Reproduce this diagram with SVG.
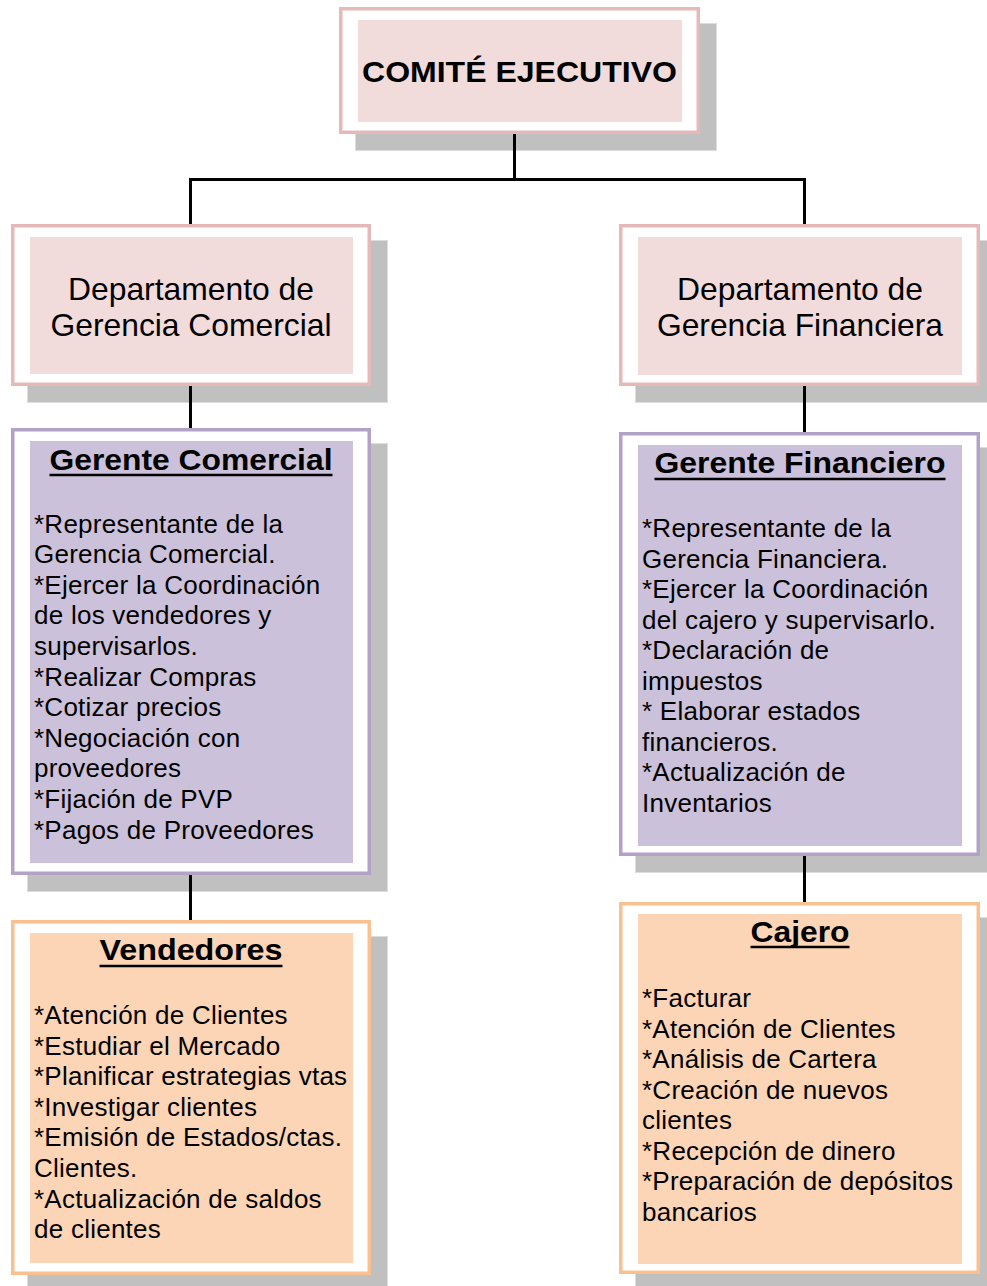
<svg xmlns="http://www.w3.org/2000/svg" width="987" height="1286" viewBox="0 0 987 1286">
<style>
.shadow{fill:#c0c0c0;stroke:#dcdcdc;stroke-width:1}
.pinkO{fill:#ffffff;stroke:#e6b9b8;stroke-width:3.5}
.pinkI{fill:#f2dcdb}
.purO{fill:#ffffff;stroke:#b3a2c7;stroke-width:3.5}
.purI{fill:#ccc1da}
.orO{fill:#ffffff;stroke:#fac090;stroke-width:3.5}
.orI{fill:#fbd5b5}
text{font-family:"Liberation Sans",Arial,sans-serif;fill:#000}
.title{font-size:30px;font-weight:bold;text-anchor:middle}
.dept{font-size:31.5px;text-anchor:middle}
.body{font-size:26px;letter-spacing:0.25px}
.ul{stroke:#000;stroke-width:2.5}
.conn{stroke:#000;stroke-width:3;fill:none}
</style>

<g id="comite">
<rect class="shadow" x="355.5" y="23.5" width="361" height="127"/>
<rect class="pinkO" x="340.75" y="8.75" width="357.5" height="123.5"/>
<rect class="pinkI" x="358" y="20" width="324" height="102"/>
<text class="title" x="519.5" y="82" textLength="315" lengthAdjust="spacingAndGlyphs">COMITÉ EJECUTIVO</text>
</g>

<g id="dept-comercial">
<rect class="shadow" x="27.5" y="240.5" width="360" height="162"/>
<rect class="pinkO" x="12.75" y="225.75" width="356.5" height="158.5"/>
<rect class="pinkI" x="30" y="237" width="323" height="137"/>
<text class="dept" x="191" y="300" textLength="246" lengthAdjust="spacingAndGlyphs">Departamento de</text>
<text class="dept" x="191" y="336" textLength="281" lengthAdjust="spacingAndGlyphs">Gerencia Comercial</text>
</g>

<g id="dept-financiera">
<rect class="shadow" x="635.5" y="240.5" width="360" height="162"/>
<rect class="pinkO" x="620.75" y="225.75" width="357.5" height="158.5"/>
<rect class="pinkI" x="638" y="237" width="324" height="138"/>
<text class="dept" x="800" y="300" textLength="246" lengthAdjust="spacingAndGlyphs">Departamento de</text>
<text class="dept" x="800" y="336" textLength="286" lengthAdjust="spacingAndGlyphs">Gerencia Financiera</text>
</g>

<g id="gerente-comercial">
<rect class="shadow" x="27.5" y="443.5" width="360" height="448"/>
<rect class="purO" x="12.75" y="429.75" width="356.5" height="443.5"/>
<rect class="purI" x="30" y="441" width="323" height="422"/>
<text class="title" x="191" y="470" textLength="283" lengthAdjust="spacingAndGlyphs">Gerente Comercial</text>
<line class="ul" x1="49.5" y1="475" x2="332.5" y2="475"/>
<text class="body" x="34">
<tspan x="34" y="532.5">*Representante de la</tspan>
<tspan x="34" y="563.1">Gerencia Comercial.</tspan>
<tspan x="34" y="593.7">*Ejercer la Coordinación</tspan>
<tspan x="34" y="624.3">de los vendedores y</tspan>
<tspan x="34" y="654.9">supervisarlos.</tspan>
<tspan x="34" y="685.5">*Realizar Compras</tspan>
<tspan x="34" y="716.1">*Cotizar precios</tspan>
<tspan x="34" y="746.7">*Negociación con</tspan>
<tspan x="34" y="777.3">proveedores</tspan>
<tspan x="34" y="807.9">*Fijación de PVP</tspan>
<tspan x="34" y="838.5">*Pagos de Proveedores</tspan>
</text>
</g>

<g id="gerente-financiero">
<rect class="shadow" x="635.5" y="447.5" width="360" height="425"/>
<rect class="purO" x="620.75" y="433.75" width="357.5" height="420.5"/>
<rect class="purI" x="638" y="445" width="324" height="401"/>
<text class="title" x="800" y="473" textLength="291" lengthAdjust="spacingAndGlyphs">Gerente Financiero</text>
<line class="ul" x1="654.5" y1="479" x2="945.5" y2="479"/>
<text class="body" x="642">
<tspan x="642" y="537">*Representante de la</tspan>
<tspan x="642" y="567.5">Gerencia Financiera.</tspan>
<tspan x="642" y="598">*Ejercer la Coordinación</tspan>
<tspan x="642" y="628.5">del cajero y supervisarlo.</tspan>
<tspan x="642" y="659">*Declaración de</tspan>
<tspan x="642" y="689.5">impuestos</tspan>
<tspan x="642" y="720">* Elaborar estados</tspan>
<tspan x="642" y="750.5">financieros.</tspan>
<tspan x="642" y="781">*Actualización de</tspan>
<tspan x="642" y="811.5">Inventarios</tspan>
</text>
</g>

<g id="vendedores">
<rect class="shadow" x="27.5" y="936.5" width="360" height="360"/>
<rect class="orO" x="12.75" y="921.75" width="356.5" height="351.5"/>
<rect class="orI" x="30" y="933" width="323" height="330"/>
<text class="title" x="191" y="960" textLength="183" lengthAdjust="spacingAndGlyphs">Vendedores</text>
<line class="ul" x1="99.5" y1="966" x2="282.5" y2="966"/>
<text class="body" x="34">
<tspan x="34" y="1024">*Atención de Clientes</tspan>
<tspan x="34" y="1054.6">*Estudiar el Mercado</tspan>
<tspan x="34" y="1085.2">*Planificar estrategias vtas</tspan>
<tspan x="34" y="1115.8">*Investigar clientes</tspan>
<tspan x="34" y="1146.4">*Emisión de Estados/ctas.</tspan>
<tspan x="34" y="1177">Clientes.</tspan>
<tspan x="34" y="1207.6">*Actualización de saldos</tspan>
<tspan x="34" y="1238.2">de clientes</tspan>
</text>
</g>

<g id="cajero">
<rect class="shadow" x="635.5" y="917.5" width="360" height="380"/>
<rect class="orO" x="620.75" y="903.75" width="357.5" height="368.5"/>
<rect class="orI" x="638" y="914" width="324" height="350"/>
<text class="title" x="800" y="942" textLength="99" lengthAdjust="spacingAndGlyphs">Cajero</text>
<line class="ul" x1="750.5" y1="947" x2="849.5" y2="947"/>
<text class="body" x="642">
<tspan x="642" y="1007">*Facturar</tspan>
<tspan x="642" y="1037.5">*Atención de Clientes</tspan>
<tspan x="642" y="1068">*Análisis de Cartera</tspan>
<tspan x="642" y="1098.5">*Creación de nuevos</tspan>
<tspan x="642" y="1129">clientes</tspan>
<tspan x="642" y="1159.5">*Recepción de dinero</tspan>
<tspan x="642" y="1190">*Preparación de depósitos</tspan>
<tspan x="642" y="1220.5">bancarios</tspan>
</text>
</g>

<g id="connectors">
<path class="conn" d="M514.5 134 V179.5"/>
<path class="conn" d="M189 179.5 H806"/>
<path class="conn" d="M190.5 178 V224"/>
<path class="conn" d="M804.5 178 V224"/>
<path class="conn" d="M190.5 386 V428"/>
<path class="conn" d="M804.5 386 V432"/>
<path class="conn" d="M190.5 875 V920"/>
<path class="conn" d="M804.5 856 V902"/>
</g>
</svg>
